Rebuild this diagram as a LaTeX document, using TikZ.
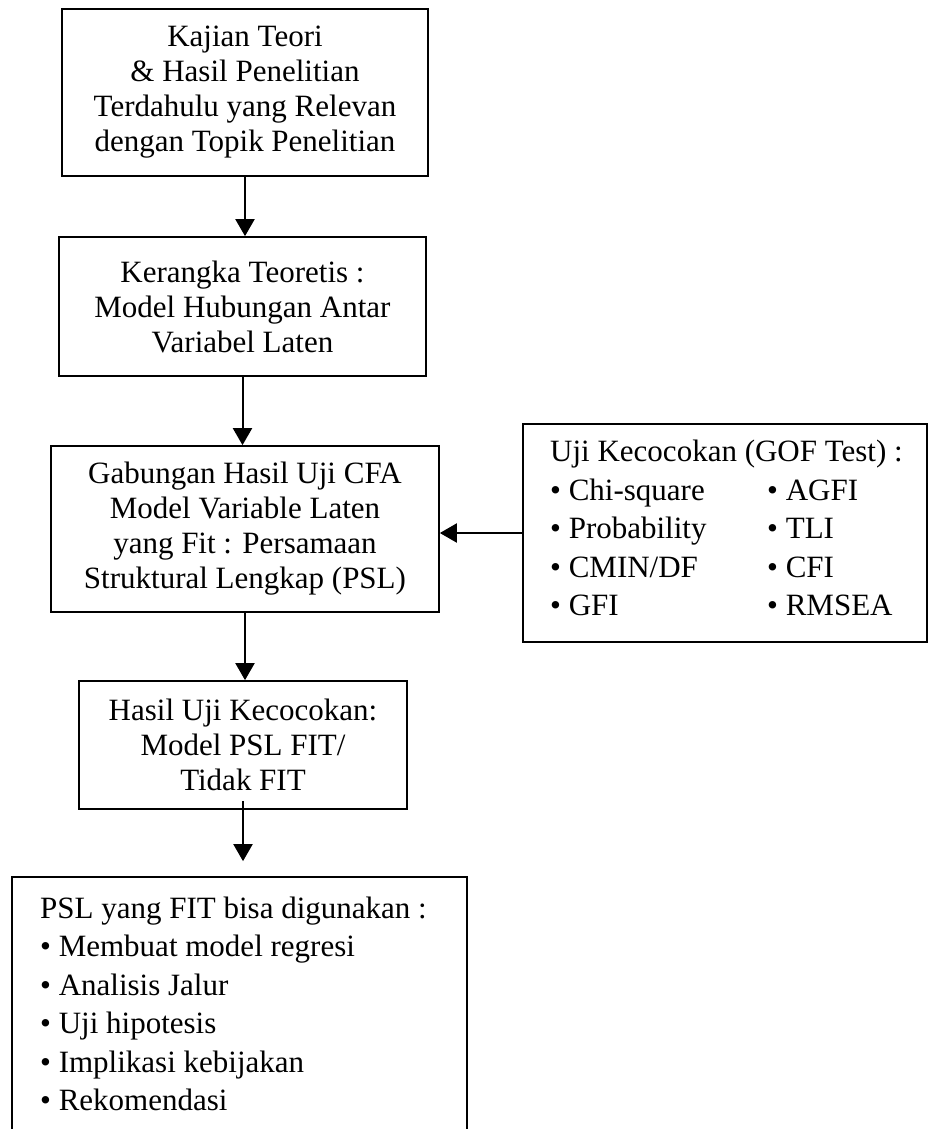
\documentclass[tikz,border=0pt]{standalone}
\usepackage{fontspec}
\setmainfont{Liberation Serif}
\usetikzlibrary{arrows.meta}
\begin{document}
\begin{tikzpicture}[x=1pt,y=-1pt,
  box/.style={draw, line width=1.7pt, inner sep=0pt},
  txt/.style={font=\fontsize{31}{35}\selectfont, align=center, inner sep=0pt},
  ltxt/.style={font=\fontsize{31}{38.5}\selectfont, align=left, inner sep=0pt, anchor=west},
  arr/.style={line width=2pt, -{Triangle[width=19pt,length=17pt]}}]
\useasboundingbox (0,0) rectangle (929,1129);
\node[box, txt, minimum width=366pt, minimum height=167pt] (b1) at (245,92.5)
  {Kajian Teori\\ \& Hasil Penelitian\\ Terdahulu yang Relevan\\ dengan Topik Penelitian};
\node[box, txt, minimum width=367pt, minimum height=139pt] (b2) at (242.5,306.5)
  {Kerangka Teoretis :\\ Model Hubungan Antar\\ Variabel Laten};
\node[box, txt, minimum width=388pt, minimum height=166pt] (b3) at (245,529)
  {Gabungan Hasil Uji CFA\\ Model Variable Laten\\ yang Fit : Persamaan\\ Struktural Lengkap (PSL)};
\node[box, minimum width=404pt, minimum height=218pt] (rb) at (725,533) {};
\node[ltxt] (rt) at (550,531)
  {\begin{tabular}{@{}p{217pt}@{}l@{}}
   \multicolumn{2}{@{}l@{}}{Uji Kecocokan (GOF Test) :}\\
   • Chi-square & • AGFI\\
   • Probability & • TLI\\
   • CMIN/DF & • CFI\\
   • GFI & • RMSEA
   \end{tabular}};
\node[box, txt, minimum width=328pt, minimum height=128pt] (b4) at (243,745)
  {Hasil Uji Kecocokan:\\ Model PSL FIT/\\ Tidak FIT};
\node[box, minimum width=455pt, minimum height=280pt] (b5) at (239.5,1017) {};
\node[ltxt] (t5) at (40,1004)
  {PSL yang FIT bisa digunakan :\\
   • Membuat model regresi\\
   • Analisis Jalur\\
   • Uji hipotesis\\
   • Implikasi kebijakan\\
   • Rekomendasi};
\draw[arr] (b1.south) -- (b1.south |- b2.north);
\draw[arr] (b2.south) -- (b2.south |- b3.north);
\draw[arr] (b3.south) -- (b3.south |- b4.north);
\draw[arr] ([yshift=9pt]b4.south) -- ([yshift=15pt]b5.north -| b4.south);
\draw[arr] (rb.west) -- (rb.west -| b3.east);
\end{tikzpicture}
\end{document}
